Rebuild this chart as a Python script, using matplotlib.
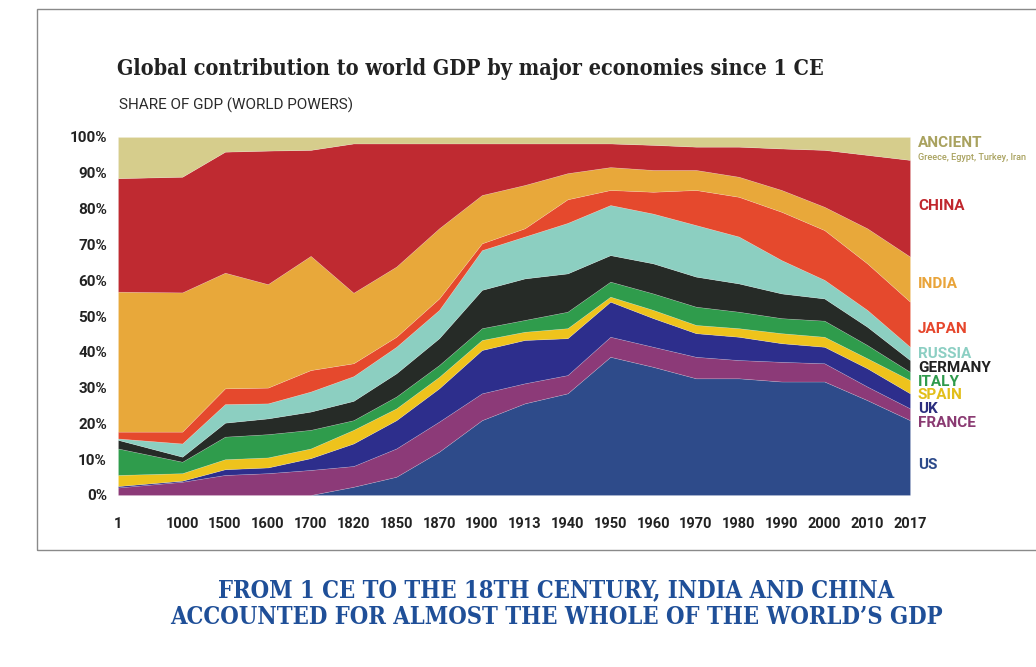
import matplotlib.pyplot as plt
import matplotlib.patches as mpatches
import numpy as np

# data (share of world GDP, %)
years = ["1", "1000", "1500", "1600", "1700", "1820", "1850", "1870", "1900", "1913",
         "1940", "1950", "1960", "1970", "1980", "1990", "2000", "2010", "2017"]

us      = [0, 0, 0, 0, 0, 2.3, 5.1, 12.1, 20.9, 25.6, 28.4, 38.6, 35.8, 32.6, 32.6, 31.7, 31.7, 26.5, 20.9]
france  = [2.1, 3.7, 5.6, 6.1, 7.0, 5.8, 7.9, 8.4, 7.5, 5.6, 5.1, 5.6, 5.6, 6.0, 5.1, 5.5, 5.1, 3.8, 3.3]
uk      = [0.4, 0.3, 1.6, 1.6, 3.3, 6.3, 7.9, 9.3, 12.1, 12.1, 10.3, 9.8, 8.0, 6.6, 6.5, 5.2, 4.6, 5.1, 4.2]
spain   = [3.1, 2.1, 2.8, 2.8, 2.7, 3.8, 3.3, 3.2, 2.8, 2.3, 2.8, 1.4, 2.3, 2.3, 2.4, 2.8, 2.8, 2.8, 3.7]
italy   = [7.4, 3.2, 6.3, 6.5, 5.2, 2.7, 3.3, 3.3, 3.3, 3.3, 4.6, 4.2, 4.6, 5.1, 4.6, 4.2, 4.5, 3.7, 2.3]
germany = [2.4, 1.4, 3.9, 4.4, 5.1, 5.4, 6.5, 7.5, 10.7, 11.6, 10.7, 7.4, 8.4, 8.4, 7.9, 6.9, 6.2, 5.1, 3.3]
russia  = [0.4, 3.7, 5.2, 4.2, 5.6, 6.9, 7.4, 7.9, 11.1, 11.7, 14.1, 14.0, 13.9, 14.4, 13.1, 9.3, 5.2, 4.7, 3.7]
japan   = [1.9, 3.3, 4.4, 4.4, 6.0, 3.6, 2.8, 3.2, 1.9, 2.3, 6.6, 4.2, 6.1, 9.8, 11.1, 13.5, 13.9, 13.0, 12.6]
india   = [39.1, 38.9, 32.3, 28.9, 31.9, 19.7, 19.6, 19.6, 13.5, 12.1, 7.3, 6.4, 6.1, 5.6, 5.6, 6.1, 6.5, 9.8, 12.6]
china   = [31.7, 32.3, 33.8, 37.3, 29.6, 41.7, 34.4, 23.7, 14.4, 11.6, 8.3, 6.6, 7.0, 6.5, 8.4, 11.6, 15.9, 20.5, 27.0]
ancient = [11.5, 11.1, 4.1, 3.8, 3.6, 1.8, 1.8, 1.8, 1.8, 1.8, 1.8, 1.8, 2.2, 2.7, 2.7, 3.2, 3.6, 5.0, 6.4]

names = ["US", "FRANCE", "UK", "SPAIN", "ITALY", "GERMANY", "RUSSIA", "JAPAN", "INDIA", "CHINA", "ANCIENT"]
fills = ["#2e4b8a", "#8c3a78", "#2d2e8c", "#eec31c", "#2f9c4c", "#262b27",
         "#8ccfc1", "#e5492d", "#e8a83a", "#bf2a31", "#d6cd8c"]
label_colors = ["#2c4a8a", "#8a3a72", "#2b2d7e", "#e2bf1a", "#2e9a4c", "#222222",
                "#8ccfc3", "#e6462c", "#e9a43a", "#c0272d", "#a9a25f"]
label_y = [465, 423, 409, 395, 382, 368, 354, 329, 284, 206, 143]  # pixel rows of the side labels

# x layout: the gap 1 -> 1000 is wider than the rest
xpos = np.r_[0, 1.5 + np.arange(len(years) - 1)]

fig = plt.figure(figsize=(10.36, 6.67), dpi=100)
fig.patch.set_facecolor("white")

# light grey frame round the chart
frame = mpatches.Rectangle((37 / 1036, 1 - 550 / 667), 1.0, (550 - 8.5) / 667,
                           transform=fig.transFigure, fill=False, edgecolor="#8a8a8a", linewidth=1.0)
fig.patches.append(frame)

ax = fig.add_axes([118 / 1036, 1 - 495 / 667, (910 - 118) / 1036, (495 - 137) / 667])
series = [us, france, uk, spain, italy, germany, russia, japan, india, china, ancient]
ax.stackplot(xpos, *series, colors=fills, linewidth=0.4, edgecolor=(1, 1, 1, 0.25))

ax.set_xlim(xpos[0], xpos[-1])
ax.set_ylim(0, 100)
for s in ax.spines.values():
    s.set_visible(False)

ax.set_yticks(np.arange(0, 101, 10))
ax.set_yticklabels([f"{v}%" for v in range(0, 101, 10)], fontsize=11, fontweight="bold",
                   color="#222222", family="Roboto")
ax.set_xticks(xpos)
ax.set_xticklabels(years, fontsize=10.5, fontweight="bold", color="#222222", family="Roboto",
                   fontstretch="condensed")
ax.tick_params(axis="both", length=0)
ax.tick_params(axis="y", pad=8)
ax.tick_params(axis="x", pad=16)

# side labels
for name, col, py in zip(names, label_colors, label_y):
    fig.text(918 / 1036, 1 - py / 667, name, color=col, fontsize=11, fontweight="bold",
             family="Roboto", va="center", ha="left")
fig.text(918 / 1036, 1 - 157 / 667, "Greece, Egypt, Turkey, Iran", color="#a9a25f",
         fontsize=6.6, fontweight="medium", family="Roboto", va="center", ha="left")

fig.text(117 / 1036, 1 - 69 / 667, "Global contribution to world GDP by major economies since 1 CE",
         fontsize=15.5, fontweight="bold", family="DejaVu Serif", fontstretch="condensed",
         color="#222222", va="center")
fig.text(119 / 1036, 1 - 105 / 667, "SHARE OF GDP (WORLD POWERS)", fontsize=11,
         family="Roboto", fontweight="normal", color="#2a2a2a", va="center")

caption = "FROM 1 CE TO THE 18TH CENTURY, INDIA AND CHINA\nACCOUNTED FOR ALMOST THE WHOLE OF THE WORLD\u2019S GDP"
fig.text(556 / 1036, 1 - 604 / 667, caption, fontsize=17, fontweight="bold", family="DejaVu Serif",
         fontstretch="condensed", color="#1f4f98", ha="center", va="center", linespacing=1.15)

fig.savefig("out.png", dpi=100)
